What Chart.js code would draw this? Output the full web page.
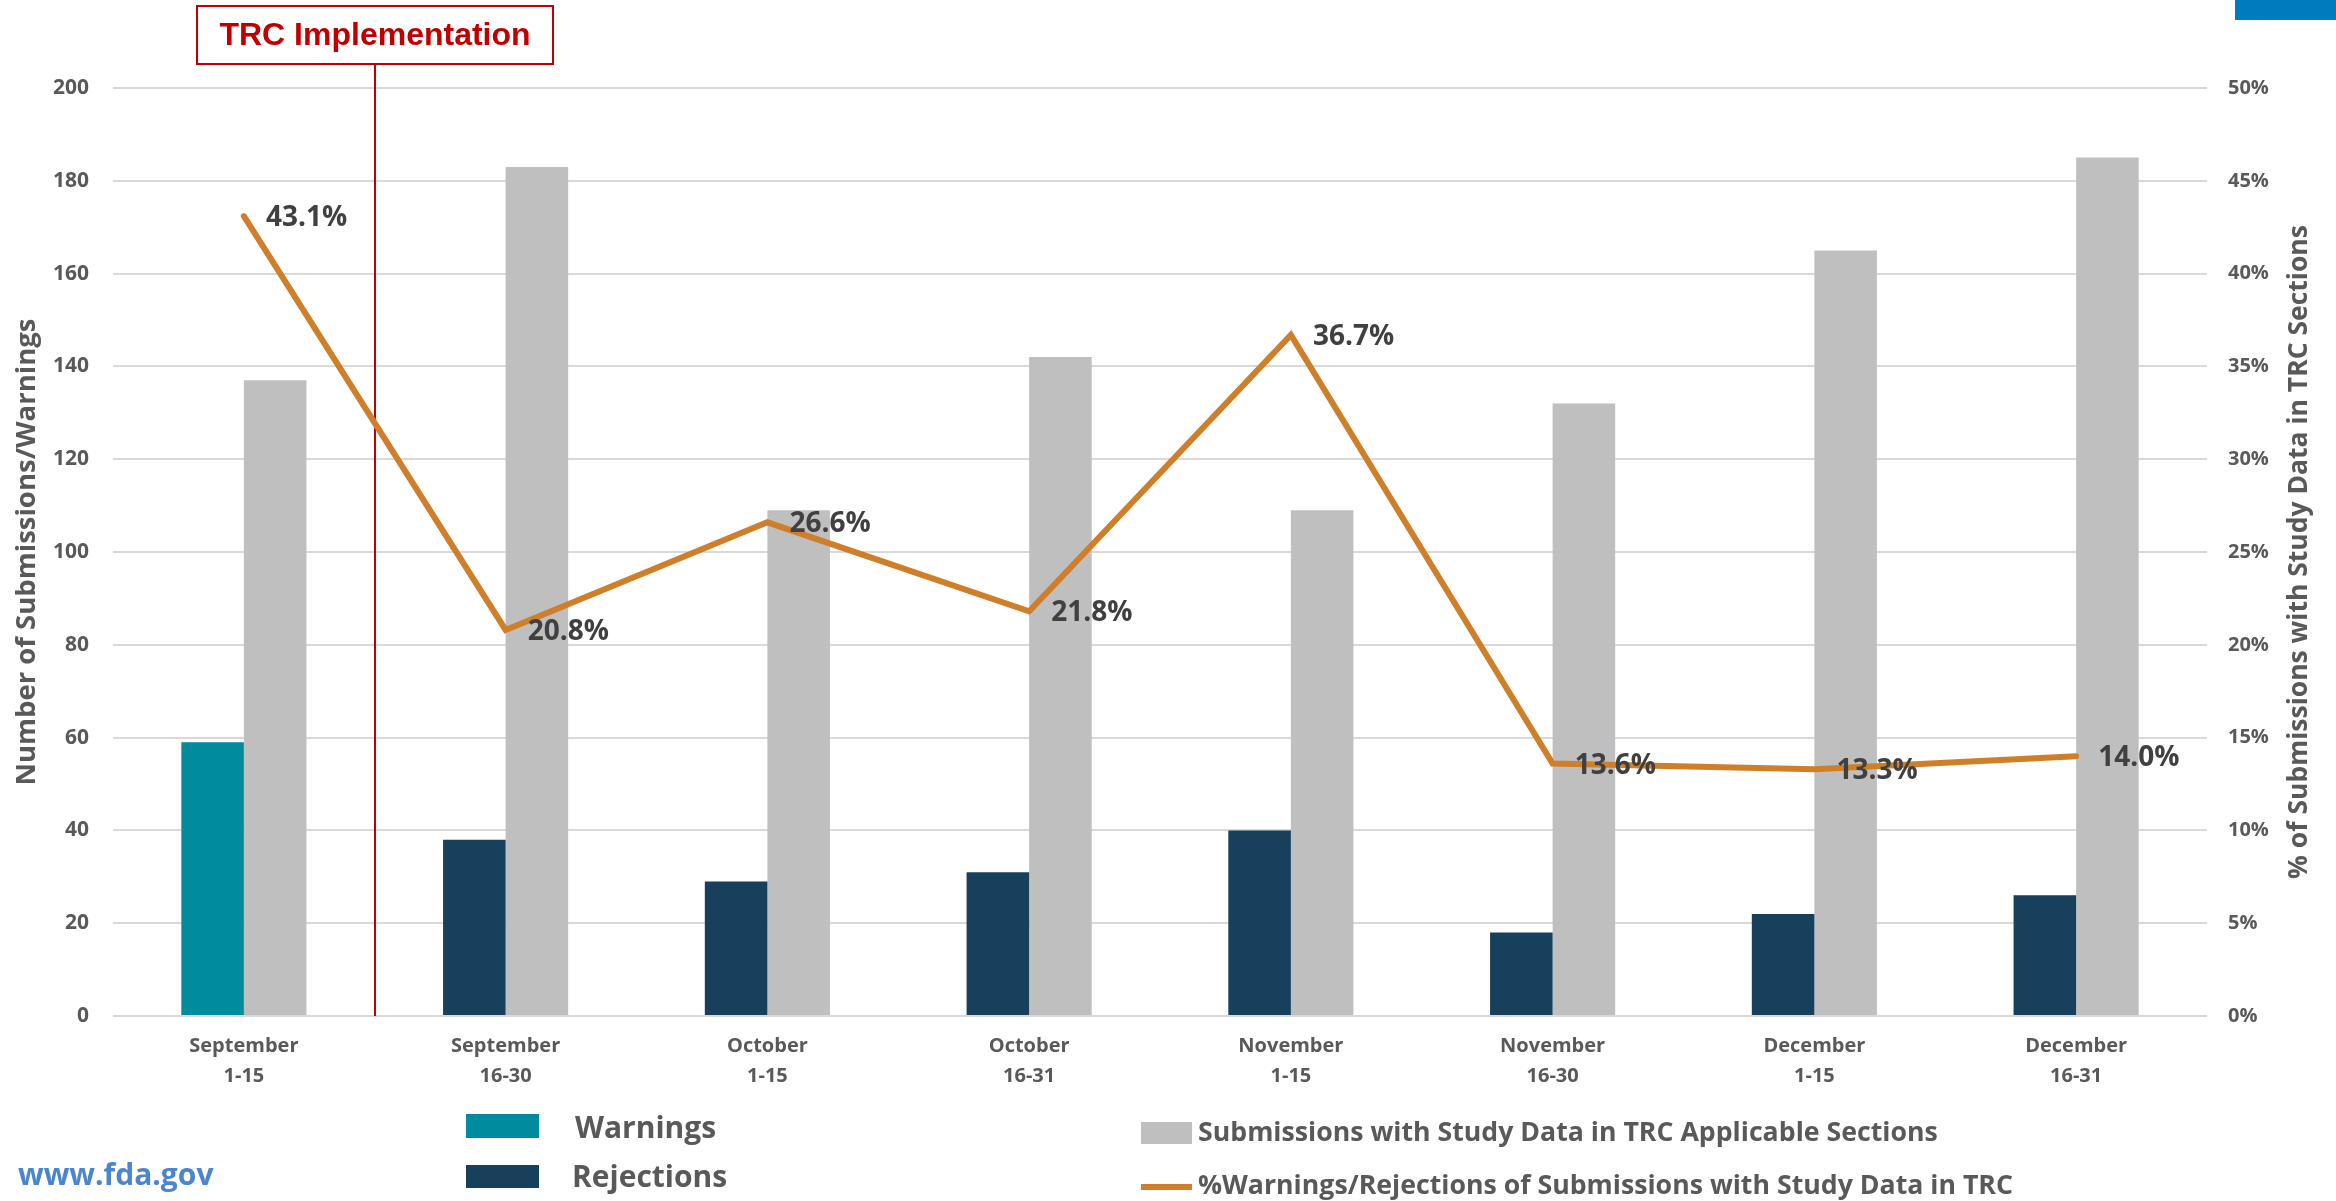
<!DOCTYPE html>
<html>
<head>
<meta charset="utf-8">
<title>TRC Warnings/Rejections</title>
<script src="https://cdn.jsdelivr.net/npm/chart.js@4.4.1/dist/chart.umd.min.js"></script>
<style>
    html, body { margin: 0; padding: 0; background: #ffffff; }
    #quadro { position: relative; width: 2336px; height: 1201px; overflow: hidden; }
    #grafico { position: absolute; left: 0; top: 0; }
    #faixaAzul { position: absolute; left: 2235px; top: 0; width: 101px; height: 20px; background: #007bbd; }
    .legenda { position: absolute; font-family: "Open Sans", sans-serif; font-weight: 700; color: #595959; white-space: nowrap; }
    .caixa { position: absolute; }
    #site { position: absolute; left: 18px; top: 1153px; font-family: "Open Sans", sans-serif; font-weight: 700; font-size: 30px; color: #4a86d0; }
</style>
</head>
<body>
<div id="quadro">
    <canvas id="grafico" width="2336" height="1201"></canvas>
    <div id="faixaAzul"></div>

    <div class="caixa" id="caixaAvisos" style="left:466px; top:1114px; width:73px; height:24px;"></div>
    <div class="legenda" id="textoAvisos" style="left:575px; top:1106px; font-size:30px;"></div>

    <div class="caixa" id="caixaRejeicoes" style="left:466px; top:1165px; width:73px; height:23px;"></div>
    <div class="legenda" id="textoRejeicoes" style="left:572px; top:1155px; font-size:30px;"></div>

    <div class="caixa" id="caixaSubmissoes" style="left:1141px; top:1122px; width:51px; height:22px;"></div>
    <div class="legenda" id="textoSubmissoes" style="left:1198px; top:1112px; font-size:26.7px;"></div>

    <div class="caixa" id="caixaPercentual" style="left:1141px; top:1184px; width:51px; height:6px;"></div>
    <div class="legenda" id="textoPercentual" style="left:1198px; top:1165px; font-size:26.7px;"></div>

    <div id="site">www.fda.gov</div>
</div>

<script>
// dados
const periodos = [
    ['September', '1-15'], ['September', '16-30'],
    ['October', '1-15'], ['October', '16-31'],
    ['November', '1-15'], ['November', '16-30'],
    ['December', '1-15'], ['December', '16-31']
];
const avisos = [59, null, null, null, null, null, null, null];
const rejeicoes = [null, 38, 29, 31, 40, 18, 22, 26];
const submissoes = [137, 183, 109, 142, 109, 132, 165, 185];
const percentual = [43.1, 20.8, 26.6, 21.8, 36.7, 13.6, 13.3, 14.0];

const nomeAvisos = 'Warnings';
const nomeRejeicoes = 'Rejections';
const nomeSubmissoes = 'Submissions with Study Data in TRC Applicable Sections';
const nomePercentual = '%Warnings/Rejections of Submissions with Study Data in TRC';
const tituloEsquerda = 'Number of Submissions/Warnings';
const tituloDireita = '% of Submissions with Study Data in TRC Sections';
const textoTRC = 'TRC Implementation';

const corAvisos = '#008b9e';
const corRejeicoes = '#16405b';
const corSubmissoes = '#bfbfbf';
const corPercentual = '#cf7f29';
const cinzaTexto = '#595959';
const vermelho = '#c00000';

// legenda feita em html
document.getElementById('caixaAvisos').style.background = corAvisos;
document.getElementById('caixaRejeicoes').style.background = corRejeicoes;
document.getElementById('caixaSubmissoes').style.background = corSubmissoes;
document.getElementById('caixaPercentual').style.background = corPercentual;
document.getElementById('textoAvisos').innerHTML = nomeAvisos;
document.getElementById('textoRejeicoes').innerHTML = nomeRejeicoes;
document.getElementById('textoSubmissoes').innerHTML = nomeSubmissoes;
document.getElementById('textoPercentual').innerHTML = nomePercentual;

// linha vermelha + caixa "TRC Implementation"
const linhaTRC = {
    id: 'linhaTRC',
    beforeDatasetsDraw(chart) {
        const ctx = chart.ctx;
        const x = Math.round(chart.scales.x.getPixelForValue(0.5));
        ctx.save();
        ctx.strokeStyle = vermelho;
        ctx.lineWidth = 2;
        ctx.beginPath();
        ctx.moveTo(x, 64);
        ctx.lineTo(x, chart.chartArea.bottom);
        ctx.stroke();

        ctx.fillStyle = '#ffffff';
        ctx.fillRect(x - 178, 6, 356, 58);
        ctx.strokeRect(x - 178, 6, 356, 58);
        ctx.fillStyle = vermelho;
        ctx.font = 'bold 32px "Liberation Sans", Arial, sans-serif';
        ctx.textAlign = 'center';
        ctx.textBaseline = 'middle';
        ctx.fillText(textoTRC, x, 36);
        ctx.restore();
    }
};

// rotulos da linha e titulo do eixo direito
const rotulosLinha = {
    id: 'rotulosLinha',
    afterDatasetsDraw(chart) {
        const ctx = chart.ctx;
        const meta = chart.getDatasetMeta(3);
        ctx.save();
        ctx.font = 'bold 28px "Open Sans", sans-serif';
        ctx.fillStyle = '#404040';
        ctx.textAlign = 'left';
        ctx.textBaseline = 'middle';
        meta.data.forEach(function (ponto, i) {
            ctx.fillText(percentual[i].toFixed(1) + '%', ponto.x + 22, ponto.y + 2);
        });

        const meio = (chart.chartArea.top + chart.chartArea.bottom) / 2;
        ctx.translate(2299, meio);
        ctx.rotate(-Math.PI / 2);
        ctx.font = 'bold 26.5px "Open Sans", sans-serif';
        ctx.fillStyle = cinzaTexto;
        ctx.textAlign = 'center';
        ctx.fillText(tituloDireita, 0, 0);
        ctx.restore();
    }
};

const dataGrafico = {
    labels: periodos,
    datasets: [{
        type: 'bar',
        label: nomeAvisos,
        data: avisos,
        backgroundColor: corAvisos,
        stack: 'problemas',
        yAxisID: 'y',
        order: 1
    }, {
        type: 'bar',
        label: nomeRejeicoes,
        data: rejeicoes,
        backgroundColor: corRejeicoes,
        stack: 'problemas',
        yAxisID: 'y',
        order: 1
    }, {
        type: 'bar',
        label: nomeSubmissoes,
        data: submissoes,
        backgroundColor: corSubmissoes,
        stack: 'submissoes',
        yAxisID: 'y',
        order: 1
    }, {
        type: 'line',
        label: nomePercentual,
        data: percentual,
        borderColor: corPercentual,
        backgroundColor: corPercentual,
        borderWidth: 6,
        pointRadius: 0,
        tension: 0,
        borderCapStyle: 'round',
        yAxisID: 'y2',
        order: 0
    }]
};

const configGrafico = {
    type: 'bar',
    data: dataGrafico,
    options: {
        responsive: false,
        animation: false,
        devicePixelRatio: 1,
        layout: {
            padding: { top: 88, left: 0, right: 0, bottom: 0 }
        },
        datasets: {
            bar: {
                categoryPercentage: 0.478,
                barPercentage: 1
            }
        },
        plugins: {
            legend: { display: false },
            tooltip: { enabled: false }
        },
        scales: {
            x: {
                grid: { display: false, drawTicks: false },
                border: { display: false },
                ticks: {
                    color: cinzaTexto,
                    padding: 15,
                    maxRotation: 0,
                    autoSkip: false,
                    font: { family: '"Open Sans", sans-serif', size: 20, weight: 'bold', lineHeight: 1.5 }
                },
                afterFit: function (escala) { escala.height = 185; }
            },
            y: {
                position: 'left',
                min: 0,
                max: 200,
                grid: { color: '#d9d9d9', lineWidth: 2, drawTicks: false },
                border: { display: false },
                ticks: {
                    stepSize: 20,
                    color: cinzaTexto,
                    padding: 24,
                    font: { family: '"Open Sans", sans-serif', size: 21, weight: 'bold' }
                },
                title: {
                    display: true,
                    text: tituloEsquerda,
                    color: cinzaTexto,
                    padding: { top: 11, bottom: 0 },
                    font: { family: '"Open Sans", sans-serif', size: 27.5, weight: 'bold' }
                },
                afterFit: function (escala) { escala.width = 113; }
            },
            y2: {
                position: 'right',
                min: 0,
                max: 50,
                grid: { display: false, drawTicks: false },
                border: { display: false },
                ticks: {
                    stepSize: 5,
                    color: cinzaTexto,
                    padding: 21,
                    font: { family: '"Open Sans", sans-serif', size: 20, weight: 'bold' },
                    callback: function (valor) { return valor + '%'; }
                },
                afterFit: function (escala) { escala.width = 129; }
            }
        }
    },
    plugins: [linhaTRC, rotulosLinha]
};

new Chart(document.getElementById('grafico'), configGrafico);
</script>
</body>
</html>
